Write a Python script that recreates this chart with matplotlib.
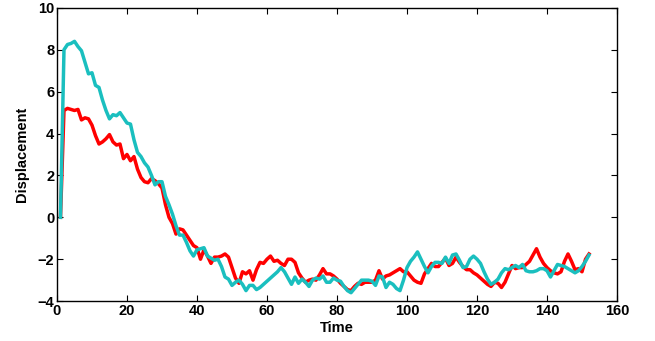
import numpy as np
import matplotlib
matplotlib.use("Agg")
import matplotlib.pyplot as plt

red = [0, 5.1, 5.2, 5.15, 5.1, 5.15, 4.65, 4.75, 4.7, 4.4,
       3.9, 3.5, 3.6, 3.75, 3.95, 3.6, 3.45, 3.5, 2.8, 3.0,
       2.7, 2.9, 2.3, 1.9, 1.7, 1.65, 1.85, 1.75, 1.6, 1.4,
       0.6, 0.0, -0.3, -0.8, -0.55, -0.6, -0.85, -1.1, -1.35, -1.45,
       -2.0, -1.55, -1.85, -2.2, -1.9, -1.9, -1.85, -1.75, -1.9, -2.4,
       -2.9, -3.15, -2.6, -2.7, -2.55, -3.0, -2.5, -2.15, -2.2, -2.0,
       -1.85, -2.1, -2.05, -2.2, -2.3, -2.0, -2.0, -2.15, -2.65, -2.9,
       -3.1, -3.0, -2.95, -3.0, -2.75, -2.45, -2.7, -2.7, -2.8, -2.95,
       -3.15, -3.3, -3.45, -3.5, -3.3, -3.15, -3.2, -3.1, -3.1, -3.1,
       -3.0, -2.55, -2.95, -2.8, -2.75, -2.65, -2.55, -2.45, -2.6, -2.6,
       -2.8, -3.0, -3.1, -3.15, -2.7, -2.45, -2.2, -2.35, -2.35, -2.15,
       -1.95, -2.3, -2.2, -1.9, -2.15, -2.35, -2.5, -2.5, -2.65, -2.75,
       -2.9, -3.05, -3.2, -3.3, -3.1, -3.15, -3.35, -3.1, -2.7, -2.3,
       -2.45, -2.4, -2.4, -2.25, -2.1, -1.8, -1.5, -1.9, -2.2, -2.4,
       -2.55, -2.65, -2.7, -2.6, -2.1, -1.75, -2.1, -2.5, -2.45, -2.6,
       -2.0, -1.75]

cyan = [0, 8.0, 8.25, 8.3, 8.4, 8.15, 7.95, 7.4, 6.85, 6.9,
        6.3, 6.2, 5.6, 5.1, 4.7, 4.9, 4.85, 5.0, 4.75, 4.5,
        4.45, 3.7, 3.1, 2.9, 2.6, 2.4, 2.0, 1.55, 1.7, 1.7,
        1.0, 0.6, 0.15, -0.4, -0.85, -0.85, -1.2, -1.6, -1.85, -1.55,
        -1.5, -1.45, -1.85, -1.95, -2.05, -2.0, -2.35, -2.85, -2.95, -3.25,
        -3.1, -3.0, -3.2, -3.5, -3.25, -3.25, -3.45, -3.35, -3.2, -3.05,
        -2.9, -2.75, -2.6, -2.4, -2.6, -2.9, -3.2, -2.85, -3.15, -2.95,
        -3.1, -3.3, -3.0, -2.9, -2.95, -2.8, -3.1, -3.1, -2.9, -3.0,
        -3.05, -3.3, -3.5, -3.6, -3.4, -3.2, -3.0, -3.0, -3.0, -3.05,
        -3.25, -2.8, -2.85, -3.35, -3.1, -3.2, -3.4, -3.5, -3.0, -2.4,
        -2.1, -1.9, -1.65, -2.0, -2.35, -2.65, -2.35, -2.15, -2.15, -2.2,
        -1.9, -2.2, -1.8, -1.75, -2.05, -2.4, -2.35, -2.0, -1.85, -2.0,
        -2.2, -2.6, -2.95, -3.2, -3.1, -2.95, -2.65, -2.45, -2.5, -2.4,
        -2.3, -2.4, -2.25, -2.55, -2.6, -2.6, -2.55, -2.45, -2.45, -2.55,
        -2.85, -2.55, -2.25, -2.3, -2.35, -2.45, -2.55, -2.65, -2.55, -2.35,
        -2.1, -1.8]

time = np.arange(1, len(red) + 1)

plt.rcParams['font.family'] = ['Liberation Sans', 'DejaVu Sans']

fig = plt.figure(figsize=(6.55, 3.41), dpi=100)
ax = fig.add_axes([0.087, 0.117, 0.855, 0.86])

ax.plot(time, red, color='#ff0000', lw=2.5)
ax.plot(time, cyan, color='#1abfbf', lw=2.5)

ax.set_xlim(0, 160)
ax.set_ylim(-4, 10)
ax.set_xticks(range(0, 161, 20))
ax.set_yticks(range(-4, 11, 2))
ax.tick_params(direction='in', top=True, right=True, length=4, width=0.8,
               labelsize=10.5, pad=2)
for lbl in ax.get_xticklabels() + ax.get_yticklabels():
    lbl.set_fontweight('bold')
for s in ax.spines.values():
    s.set_linewidth(1.0)

ax.set_xlabel('Time', fontsize=10.5, fontweight='bold', labelpad=2)
ax.set_ylabel('Displacement', fontsize=10.5, fontweight='bold', labelpad=6)

fig.savefig('out.png', dpi=100)
